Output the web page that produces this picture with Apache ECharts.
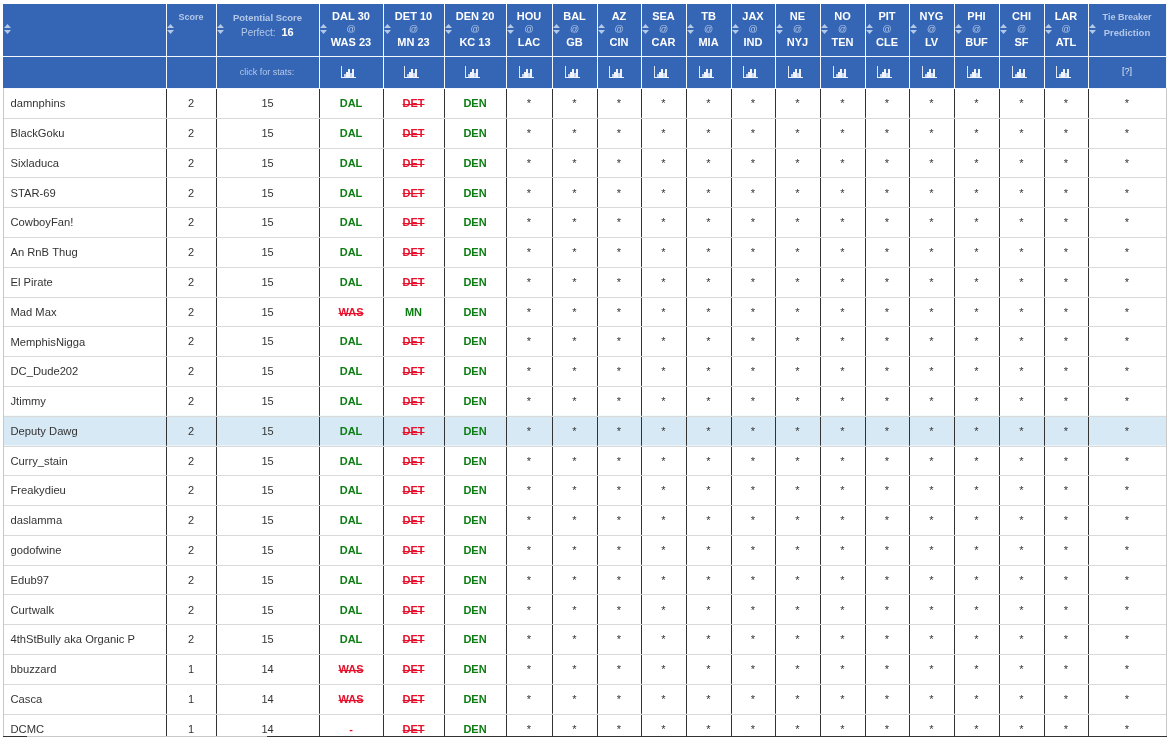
<!DOCTYPE html>
<html>
<head>
<meta charset="utf-8">
<title>Picks</title>
<script src="https://cdn.jsdelivr.net/npm/echarts@6/dist/echarts.min.js"></script>
<style>
html, body { margin: 0; padding: 0; background: #fff; }
#main { width: 1167px; height: 737px; }
</style>
</head>
<body>
<div id="main"></div>
<script>
// table data
var players = ['damnphins', 'BlackGoku', 'Sixladuca', 'STAR-69', 'CowboyFan!', 'An RnB Thug', 'El Pirate', 'Mad Max',
	'MemphisNigga', 'DC_Dude202', 'Jtimmy', 'Deputy Dawg', 'Curry_stain', 'Freakydieu', 'daslamma', 'godofwine',
	'Edub97', 'Curtwalk', '4thStBully aka Organic P', 'bbuzzard', 'Casca', 'DCMC'];
var scores = [2, 2, 2, 2, 2, 2, 2, 2, 2, 2, 2, 2, 2, 2, 2, 2, 2, 2, 2, 1, 1, 1];
var potential = [15, 15, 15, 15, 15, 15, 15, 15, 15, 15, 15, 15, 15, 15, 15, 15, 15, 15, 15, 14, 14, 14];
var pickGame1 = ['DAL', 'DAL', 'DAL', 'DAL', 'DAL', 'DAL', 'DAL', 'WAS', 'DAL', 'DAL', 'DAL', 'DAL', 'DAL', 'DAL', 'DAL', 'DAL', 'DAL', 'DAL', 'DAL', 'WAS', 'WAS', '-'];
var pickGame2 = ['DET', 'DET', 'DET', 'DET', 'DET', 'DET', 'DET', 'MN', 'DET', 'DET', 'DET', 'DET', 'DET', 'DET', 'DET', 'DET', 'DET', 'DET', 'DET', 'DET', 'DET', 'DET'];
var pickGame3 = ['DEN', 'DEN', 'DEN', 'DEN', 'DEN', 'DEN', 'DEN', 'DEN', 'DEN', 'DEN', 'DEN', 'DEN', 'DEN', 'DEN', 'DEN', 'DEN', 'DEN', 'DEN', 'DEN', 'DEN', 'DEN', 'DEN'];
var winners = ['DAL', 'MN', 'DEN'];
var gamesTop = ['DAL 30', 'DET 10', 'DEN 20', 'HOU', 'BAL', 'AZ', 'SEA', 'TB', 'JAX', 'NE', 'NO', 'PIT', 'NYG', 'PHI', 'CHI', 'LAR'];
var gamesBottom = ['WAS 23', 'MN 23', 'KC 13', 'LAC', 'GB', 'CIN', 'CAR', 'MIA', 'IND', 'NYJ', 'TEN', 'CLE', 'LV', 'BUF', 'SF', 'ATL'];
var highlightPlayer = 'Deputy Dawg';

// layout
var tableLeft = 3;
var colWidths = [163, 50, 103, 64, 61, 62, 46, 45, 44, 45, 45, 44, 45, 45, 44, 45, 45, 45, 44, 78];
var colEdges = [tableLeft];
colWidths.forEach(function (w, i) { colEdges.push(colEdges[i] + w); });
var headHeights = [0, 52, 84];
var visibleRows = 21.75;

var fontName = '"Liberation Sans", Arial, sans-serif';
var BLUE = '#3566b5', PALE = '#b4c8e8', TEXT = '#333333', GREEN = '#0b7d12', RED = '#e8102a';

var measure = document.createElement('canvas').getContext('2d');
function textWidth(str, font) {
	measure.font = font;
	return measure.measureText(str).width;
}

function label(str, x, y, font, fill, align) {
	return {
		type: 'text',
		z2: 5,
		style: { text: str, x: x, y: y, font: font, fill: fill, align: align || 'center', verticalAlign: 'middle' }
	};
}

function segment(x1, y1, x2, y2, color, width, z2) {
	return {
		type: 'line',
		z2: z2 || 1,
		shape: { x1: x1, y1: y1, x2: x2, y2: y2 },
		style: { stroke: color, lineWidth: width || 1 }
	};
}

function box(x, y, w, h, fill) {
	return { type: 'rect', z2: 3, shape: { x: x, y: y, width: w, height: h }, style: { fill: fill } };
}

function sortUp(x, y) {
	return {
		type: 'polygon', z2: 4,
		shape: { points: [[x - 3.5, y - 1], [x, y - 5], [x + 3.5, y - 1]] },
		style: { fill: PALE }
	};
}
function sortDown(x, y) {
	return {
		type: 'polygon', z2: 4,
		shape: { points: [[x - 3.5, y + 1], [x, y + 5], [x + 3.5, y + 1]] },
		style: { fill: PALE }
	};
}

// little bar chart icon of the second header row
function statsIcon(cx, cy) {
	var l = Math.round(cx - 7.5), b = Math.round(cy + 5), parts = [];
	parts.push(box(l, b - 11, 1, 11, '#dfe7f5'));
	parts.push(box(l, b, 15, 1, '#eef2fa'));
	[[3, 3], [5, 5], [7, 8], [9, 4], [11, 8]].forEach(function (bar) {
		parts.push(box(l + bar[0], b - bar[1], 2, bar[1], bar[1] > 4 ? '#eef2fa' : '#c3d2ec'));
	});
	return parts;
}

// header cells
var headData = [];
colWidths.forEach(function (w, c) { headData.push([c, 0]); headData.push([c, 1]); });

function renderHead(params, api) {
	var c = api.value(0), r = api.value(1);
	var p0 = api.coord([colEdges[c], headHeights[r]]);
	var p1 = api.coord([colEdges[c + 1], headHeights[r + 1]]);
	var w = p1[0] - p0[0], h = p1[1] - p0[1], cx = p0[0] + w / 2;
	var kids = [
		{ type: 'rect', shape: { x: p0[0], y: p0[1], width: w, height: h }, style: { fill: BLUE } },
		segment(p1[0] + 0.5, p0[1], p1[0] + 0.5, p1[1], '#f4f7fc', 1, 2),
		segment(p0[0], p1[1] + 0.5, p1[0], p1[1] + 0.5, '#f4f7fc', 1, 2)
	];
	if (r === 0) {
		kids.push(sortUp(p0[0] + 4.5, p0[1] + 25), sortDown(p0[0] + 4.5, p0[1] + 25));
		var bold9 = 'bold 9px ' + fontName;
		var bold95 = 'bold 9.5px ' + fontName;
		if (c === 1) {
			kids.push(label('Score', cx, p0[1] + 14, bold9, PALE));
		} else if (c === 2) {
			kids.push(label('Potential Score', cx, p0[1] + 14, bold95, PALE));
			kids.push(label('Perfect:', p0[0] + 25, p0[1] + 29, '10px ' + fontName, PALE, 'left'));
			kids.push(label('16', p0[0] + 65.5, p0[1] + 29, 'bold 11px ' + fontName, '#ffffff', 'left'));
		} else if (c === colWidths.length - 1) {
			kids.push(label('Tie Breaker', cx, p0[1] + 14, bold9, PALE));
			kids.push(label('Prediction', cx, p0[1] + 29, bold95, PALE));
		} else if (c > 2) {
			kids.push(label(gamesTop[c - 3], cx, p0[1] + 13, 'bold 11px ' + fontName, '#ffffff'));
			kids.push(label('@', cx, p0[1] + 25.5, '9px ' + fontName, PALE));
			kids.push(label(gamesBottom[c - 3], cx, p0[1] + 39, 'bold 11px ' + fontName, '#ffffff'));
		}
	} else {
		if (c === 2) {
			kids.push(label('click for stats:', cx - 0.5, p0[1] + 17, '9px ' + fontName, PALE));
		} else if (c === colWidths.length - 1) {
			kids.push(label('[?]', cx, p0[1] + 15.5, '9px ' + fontName, '#dfe7f5'));
		} else if (c > 2) {
			kids = kids.concat(statsIcon(cx - 2.5, p0[1] + 15.5));
		}
	}
	return { type: 'group', children: kids };
}

// body cells
var bodyData = [];
players.forEach(function (name, r) {
	colWidths.forEach(function (w, c) { bodyData.push([c, r]); });
});

function pickFor(c, r) {
	return [pickGame1, pickGame2, pickGame3][c - 3][r];
}

function renderBody(params, api) {
	var c = api.value(0), r = api.value(1);
	var p0 = api.coord([colEdges[c], r]);
	var p1 = api.coord([colEdges[c + 1], r + 1]);
	var w = p1[0] - p0[0], cx = p0[0] + w / 2, cy = (p0[1] + p1[1]) / 2 + 1.2;
	var name = players[r];
	var yLine = Math.round(p1[1]) + 0.5;
	var kids = [];
	if (name === highlightPlayer) {
		kids.push({ type: 'rect', shape: { x: p0[0], y: p0[1], width: w, height: p1[1] - p0[1] }, style: { fill: '#d6e9f4' } });
	}
	// vertical rule right of the cell, the row rule goes over it
	if (c < colWidths.length - 1) {
		kids.push(segment(p1[0] + 0.5, p0[1], p1[0] + 0.5, p1[1], '#333333', 1, 1));
	}
	kids.push(segment(p0[0], yLine, p1[0] + 1, yLine, '#d9d9d9', 1, 2));

	var font = '11px ' + fontName;
	if (c === 0) {
		kids.push(label(name, p0[0] + 7.5, cy, '11.2px ' + fontName, TEXT, 'left'));
	} else if (c === 1) {
		kids.push(label(String(scores[r]), cx, cy, font, TEXT));
	} else if (c === 2) {
		kids.push(label(String(potential[r]), cx, cy, font, TEXT));
	} else if (c <= 5) {
		var pick = pickFor(c, r);
		var boldFont = 'bold 11px ' + fontName;
		var good = winners.indexOf(pick) >= 0;
		kids.push(label(pick, cx, cy, boldFont, good ? GREEN : RED));
		if (!good && pick !== '-') {
			var half = textWidth(pick, boldFont) / 2;
			kids.push(segment(cx - half, Math.round(cy) + 0.5, cx + half, Math.round(cy) + 0.5, RED, 1, 6));
		}
	} else {
		kids.push(label('*', cx, cy, font, TEXT));
	}
	return { type: 'group', children: kids };
}

var chart = echarts.init(document.getElementById('main'), null, { renderer: 'canvas' });

var option = {
	animation: false,
	backgroundColor: '#ffffff',
	tooltip: { show: false },
	grid: [
		{ left: 0, right: 0, top: 4, height: 84, containLabel: false },
		{ left: 0, right: 0, top: 88, height: 648, containLabel: false }
	],
	xAxis: [
		{ type: 'value', gridIndex: 0, min: 0, max: 1167, show: false },
		{ type: 'value', gridIndex: 1, min: 0, max: 1167, show: false }
	],
	yAxis: [
		{ type: 'value', gridIndex: 0, min: 0, max: 84, inverse: true, show: false },
		{ type: 'value', gridIndex: 1, min: 0, max: visibleRows, inverse: true, show: false }
	],
	series: [
		{
			type: 'custom', name: 'body', xAxisIndex: 1, yAxisIndex: 1, silent: true, clip: true,
			encode: { x: 0, y: 1 }, data: bodyData, renderItem: renderBody
		},
		{
			type: 'custom', name: 'head', xAxisIndex: 0, yAxisIndex: 0, silent: true,
			encode: { x: 0, y: 1 }, data: headData, renderItem: renderHead
		}
	],
	graphic: [
		// table frame: grey left and right edges, bottom border
		{ type: 'line', shape: { x1: 3.5, y1: 88, x2: 3.5, y2: 737 }, style: { stroke: '#c8c8c8', lineWidth: 1 }, z: 10 },
		{ type: 'line', shape: { x1: 1166.5, y1: 88, x2: 1166.5, y2: 737 }, style: { stroke: '#c8c8c8', lineWidth: 1 }, z: 10 },
		{ type: 'line', shape: { x1: 3, y1: 736.5, x2: 1167, y2: 736.5 }, style: { stroke: '#333333', lineWidth: 1 }, z: 10 },
		{ type: 'line', shape: { x1: 27, y1: 736.5, x2: 267, y2: 736.5 }, style: { stroke: '#c8c8c8', lineWidth: 1 }, z: 11 }
	]
};

chart.setOption(option);
</script>
</body>
</html>
